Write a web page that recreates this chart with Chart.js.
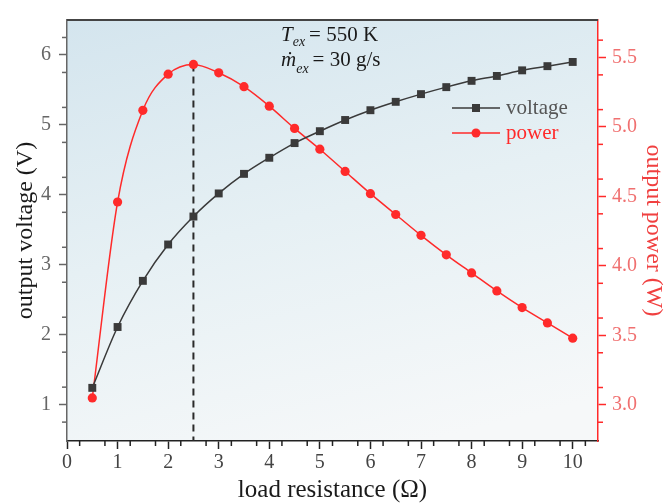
<!DOCTYPE html>
<html>
<head>
<meta charset="utf-8">
<script src="https://cdn.jsdelivr.net/npm/chart.js@4/dist/chart.umd.min.js"></script>
<style>
  html, body { margin: 0; padding: 0; background: #fff; }
</style>
</head>
<body>
<canvas id="line-chart" width="665" height="504"></canvas>
<script>
// load resistance (ohm)
const resistance = [0.5, 1, 1.5, 2, 2.5, 3, 3.5, 4, 4.5, 5, 5.5, 6, 6.5, 7, 7.5, 8, 8.5, 9, 9.5, 10];
// output voltage (V)
const voltage = [1.24, 2.11, 2.77, 3.29, 3.69, 4.02, 4.30, 4.53, 4.74, 4.91, 5.07, 5.21, 5.33, 5.44, 5.54, 5.63, 5.70, 5.78, 5.84, 5.90];
// output power (W)
const power = [3.05, 4.46, 5.12, 5.38, 5.45, 5.39, 5.29, 5.15, 4.99, 4.84, 4.68, 4.52, 4.37, 4.22, 4.08, 3.95, 3.82, 3.70, 3.59, 3.48];
// dashed marker at maximum power
const peakX = [2.5, 2.5];
const peakY = [5.45, 2.74];

const xTicks = [0, 1, 2, 3, 4, 5, 6, 7, 8, 9, 10];
const voltTicks = [1, 2, 3, 4, 5, 6];
const powerTicks = [3.0, 3.5, 4.0, 4.5, 5.0, 5.5];

const SERIF = "'Liberation Serif', 'DejaVu Serif', serif";
const RED = '#ff2a2a';
const DARK = '#3a3a3a';

function points(xs, ys) {
  return xs.map((v, i) => ({ x: v, y: ys[i] }));
}

// paint the plot background
const backdrop = {
  id: 'backdrop',
  beforeDraw(chart) {
    const { ctx, chartArea: a } = chart;
    ctx.save();
    ctx.fillStyle = '#ffffff';
    ctx.fillRect(0, 0, chart.width, chart.height);
    const g = ctx.createLinearGradient(a.left, a.top, a.left + 120, a.bottom + 60);
    g.addColorStop(0, '#d4e5ee');
    g.addColorStop(0.5, '#e6f0f4');
    g.addColorStop(1, '#f6f8f9');
    ctx.fillStyle = g;
    ctx.fillRect(a.left, a.top, a.right - a.left, a.bottom - a.top);
    ctx.restore();
  },
  afterDraw(chart) {
    const { ctx, chartArea: a } = chart;
    ctx.save();
    ctx.strokeStyle = '#444';
    ctx.lineWidth = 2;
    ctx.beginPath();
    ctx.moveTo(a.left, a.top);
    ctx.lineTo(a.right, a.top);
    ctx.stroke();
    ctx.restore();
  }
};

// short minor ticks halfway between the major ones
const minorTicks = {
  id: 'minorTicks',
  afterDraw(chart) {
    const { ctx } = chart;
    const s = chart.scales;
    ctx.save();
    ctx.lineWidth = 1.5;
    function mids(arr, lo, hi, step) {
      const out = [];
      const first = arr[0] - step / 2;
      for (let v = first; v < hi; v += step) {
        if (v > lo + 0.03 && v < hi - 0.03 && !arr.some(t => Math.abs(t - v) < 1e-6)) out.push(v);
      }
      return out;
    }
    ctx.strokeStyle = '#222';
    mids(xTicks, s.x.min, s.x.max, 0.5).forEach(v => {
      const p = s.x.getPixelForValue(v);
      ctx.beginPath(); ctx.moveTo(p, s.x.top); ctx.lineTo(p, s.x.top + 5); ctx.stroke();
    });
    ctx.strokeStyle = '#666';
    mids(voltTicks, s.y.min, s.y.max, 0.5).forEach(v => {
      const p = s.y.getPixelForValue(v);
      ctx.beginPath(); ctx.moveTo(s.y.right, p); ctx.lineTo(s.y.right - 5, p); ctx.stroke();
    });
    ctx.strokeStyle = RED;
    mids(powerTicks, s.y1.min, s.y1.max, 0.25).forEach(v => {
      const p = s.y1.getPixelForValue(v);
      ctx.beginPath(); ctx.moveTo(s.y1.left, p); ctx.lineTo(s.y1.left + 5, p); ctx.stroke();
    });
    ctx.restore();
  }
};

// text inside the plot: conditions and legend
const notes = {
  id: 'notes',
  afterDraw(chart) {
    const { ctx } = chart;
    ctx.save();
    ctx.textBaseline = 'alphabetic';
    ctx.textAlign = 'left';
    ctx.fillStyle = '#1a1a1a';

    function run(parts, x, y) {
      parts.forEach(p => {
        ctx.font = p.font;
        ctx.fillText(p.t, x, y + (p.dy || 0));
        x += ctx.measureText(p.t).width + (p.gap || 0);
      });
    }
    run([
      { t: 'T', font: 'italic 21px ' + SERIF, gap: 0 },
      { t: 'ex', font: 'italic 14px ' + SERIF, dy: 5, gap: 4 },
      { t: '= 550 K', font: '21px ' + SERIF }
    ], 281, 41);
    run([
      { t: 'm\u0307', font: 'italic 21px ' + SERIF, gap: 0 },
      { t: 'ex', font: 'italic 14px ' + SERIF, dy: 7, gap: 4 },
      { t: '= 30 g/s', font: '21px ' + SERIF }
    ], 281, 66);

    // legend
    const rows = [
      { ds: chart.data.datasets[0], y: 108, color: '#555' },
      { ds: chart.data.datasets[1], y: 133, color: RED }
    ];
    rows.forEach(r => {
      ctx.strokeStyle = r.ds.borderColor;
      ctx.lineWidth = 1.5;
      ctx.beginPath(); ctx.moveTo(452, r.y); ctx.lineTo(500, r.y); ctx.stroke();
      ctx.fillStyle = r.ds.pointBackgroundColor;
      if (r.ds.pointStyle === 'rect') {
        ctx.fillRect(472, r.y - 4, 8, 8);
      } else {
        ctx.beginPath(); ctx.arc(476, r.y, 4.5, 0, Math.PI * 2); ctx.fill();
      }
      ctx.fillStyle = r.color;
      ctx.font = '21px ' + SERIF;
      ctx.textBaseline = 'middle';
      ctx.fillText(r.ds.label, 506, r.y);
    });
    ctx.restore();
  }
};

new Chart(document.getElementById('line-chart'), {
  type: 'line',
  data: {
    datasets: [
      {
        label: 'voltage',
        data: points(resistance, voltage),
        yAxisID: 'y',
        borderColor: DARK,
        borderWidth: 1.5,
        pointStyle: 'rect',
        pointRadius: 5.6,
        pointBackgroundColor: DARK,
        pointBorderColor: DARK,
        pointBorderWidth: 0,
        cubicInterpolationMode: 'monotone'
      },
      {
        label: 'power',
        data: points(resistance, power),
        yAxisID: 'y1',
        borderColor: RED,
        borderWidth: 1.5,
        pointStyle: 'circle',
        pointRadius: 4.6,
        pointBackgroundColor: RED,
        pointBorderColor: RED,
        pointBorderWidth: 0,
        cubicInterpolationMode: 'monotone'
      },
      {
        label: 'peak',
        data: points(peakX, peakY),
        yAxisID: 'y1',
        borderColor: '#2a2a2a',
        borderWidth: 2,
        borderDash: [7, 5],
        pointRadius: 0
      }
    ]
  },
  options: {
    responsive: false,
    animation: false,
    layout: { padding: { top: 12, left: 0, right: 0, bottom: 0 } },
    plugins: {
      legend: { display: false },
      tooltip: { enabled: false }
    },
    scales: {
      x: {
        type: 'linear',
        position: 'bottom',
        min: 0,
        max: 10.5,
        afterBuildTicks: s => { s.ticks = xTicks.map(v => ({ value: v })); },
        afterFit: s => { s.height = 63; },
        border: { color: '#222', width: 1.5 },
        grid: { drawOnChartArea: false, tickLength: 8, tickWidth: 1.5, tickColor: '#222' },
        ticks: { color: '#444', padding: 2, maxRotation: 0, font: { family: SERIF, size: 20 } },
        title: { display: true, text: 'load resistance (\u03a9)', color: '#1a1a1a',
                 font: { family: SERIF, size: 25, lineHeight: 1 }, padding: { top: 0, bottom: 1 } }
      },
      y: {
        type: 'linear',
        position: 'left',
        min: 0.48,
        max: 6.5,
        afterBuildTicks: s => { s.ticks = voltTicks.map(v => ({ value: v })); },
        afterFit: s => { s.width = 67; },
        border: { color: '#666', width: 1.5 },
        grid: { drawOnChartArea: false, tickLength: 8, tickWidth: 1.5, tickColor: '#666' },
        ticks: { color: '#666', padding: 8, font: { family: SERIF, size: 20 } },
        title: { display: true, text: 'output voltage (V)', color: '#1a1a1a',
                 font: { family: SERIF, size: 24, lineHeight: 1 }, padding: { top: 14, bottom: 0 } }
      },
      y1: {
        type: 'linear',
        position: 'right',
        min: 2.74,
        max: 5.77,
        afterBuildTicks: s => { s.ticks = powerTicks.map(v => ({ value: v })); },
        afterFit: s => { s.width = 67; },
        border: { color: RED, width: 1.5 },
        grid: { drawOnChartArea: false, tickLength: 8, tickWidth: 1.5, tickColor: RED },
        ticks: { color: '#f07070', padding: 6, font: { family: SERIF, size: 20 },
                 callback: v => Number(v).toFixed(1) },
        title: { display: true, text: 'output power (W)', color: '#f04040',
                 font: { family: SERIF, size: 24, lineHeight: 1 }, padding: { top: 0, bottom: 0 } }
      }
    }
  },
  plugins: [backdrop, minorTicks, notes]
});
</script>
</body>
</html>
